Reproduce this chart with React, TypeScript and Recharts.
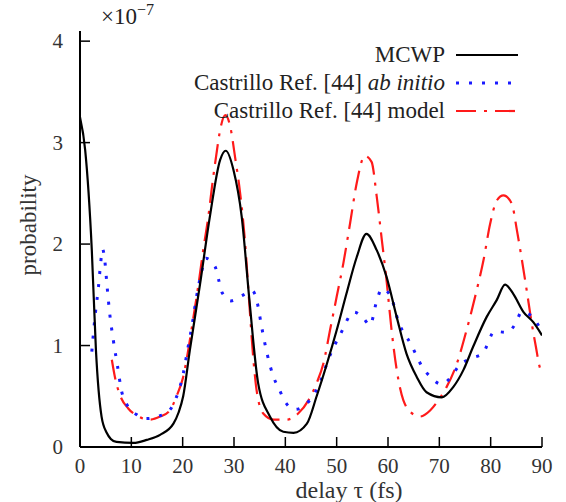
import { LineChart, Line, XAxis, YAxis, Legend } from "recharts";

const FONT = "'Liberation Serif', 'DejaVu Serif', serif";

// x ticks (fs) and y ticks (units of 1e-7)
const xTicks = [0, 10, 20, 30, 40, 50, 60, 70, 80, 90];
const yTicks = [0, 1, 2, 3, 4];

// MCWP (solid black)
const mcwpT = [0, 1.0, 2.3, 3.1, 4.2, 5.2, 6.0, 7.1, 10.4, 13.0, 15.6, 18.2, 19.2, 20.1, 21.4, 23.4, 25.3, 27.3, 28.4, 29.9, 31.5, 33.0, 34.7, 37.0, 39.6, 41.6, 44.2, 46.1, 48.1, 50.0, 51.9, 53.9, 55.8, 57.8, 59.7, 61.7, 63.6, 65.6, 67.5, 70.5, 72.7, 74.7, 76.6, 79.2, 81.2, 82.8, 84.4, 86.4, 88.3, 90];
const mcwpV = [3.25, 2.93, 1.94, 0.96, 0.3, 0.14, 0.08, 0.05, 0.04, 0.07, 0.12, 0.23, 0.34, 0.5, 0.955, 1.61, 2.27, 2.83, 2.92, 2.73, 2.27, 1.45, 0.63, 0.3, 0.15, 0.14, 0.23, 0.5, 0.82, 1.15, 1.51, 1.87, 2.1, 1.94, 1.68, 1.28, 0.92, 0.69, 0.54, 0.49, 0.59, 0.76, 0.99, 1.28, 1.45, 1.6, 1.51, 1.33, 1.23, 1.1];

// Castrillo ab initio (blue dotted)
const abT = [2.3, 3.0, 3.6, 4.0, 4.4, 4.8, 5.3, 5.8, 6.5, 7.3, 8.1, 9.0, 11.0, 12.9, 15.1, 17.4, 18.7, 20.1, 21.0, 21.9, 22.7, 23.7, 24.5, 26.3, 27.0, 27.7, 29.4, 31.5, 33.6, 34.5, 35.4, 36.4, 37.7, 38.8, 39.9, 41.9, 44.0, 45.6, 46.8, 48.5, 50.7, 53.4, 55.2, 56.5, 57.8, 58.8, 60.5, 62.0, 64.5, 66.8, 68.3, 70.3, 72.3, 73.8, 76.0, 78.4, 80.8, 83.1, 84.9, 86.0, 88.0, 89.5];
const abV = [0.94, 1.32, 1.58, 1.8, 1.95, 1.85, 1.57, 1.31, 1.05, 0.8, 0.55, 0.43, 0.32, 0.28, 0.3, 0.36, 0.48, 0.72, 0.97, 1.22, 1.48, 1.73, 1.86, 1.78, 1.65, 1.52, 1.44, 1.49, 1.54, 1.43, 1.18, 0.93, 0.69, 0.57, 0.45, 0.37, 0.42, 0.52, 0.64, 0.88, 1.11, 1.33, 1.27, 1.2, 1.44, 1.56, 1.49, 1.24, 1.01, 0.78, 0.69, 0.62, 0.69, 0.8, 0.87, 0.92, 1.14, 1.13, 1.22, 1.33, 1.29, 1.18];

// Castrillo model (red dash-dot)
const modelT = [6.2, 6.8, 7.8, 9.4, 11.4, 13.6, 15.6, 17.5, 18.8, 20.1, 21.1, 22.1, 23.1, 24.0, 25.0, 25.8, 26.5, 27.4, 28.3, 29.3, 30.2, 31.2, 32.1, 33.0, 33.8, 34.4, 35.7, 37.7, 40.3, 42.5, 44.5, 46.1, 47.4, 48.7, 50.0, 51.3, 52.6, 53.9, 55.5, 56.8, 57.8, 58.8, 59.7, 60.7, 61.7, 63.0, 65.0, 66.2, 68.2, 69.8, 71.4, 73.4, 75.3, 77.3, 78.6, 79.9, 81.2, 82.5, 84.1, 85.1, 86.0, 87.0, 88.0, 88.8, 89.6, 90];
const modelV = [0.86, 0.69, 0.51, 0.38, 0.3, 0.27, 0.3, 0.36, 0.5, 0.69, 0.96, 1.28, 1.61, 1.94, 2.27, 2.6, 2.86, 3.15, 3.27, 3.15, 2.86, 2.5, 2.05, 1.4, 0.85, 0.56, 0.33, 0.27, 0.27, 0.33, 0.46, 0.63, 0.82, 1.15, 1.48, 1.81, 2.2, 2.6, 2.87, 2.81, 2.47, 2.04, 1.65, 1.15, 0.76, 0.46, 0.32, 0.3, 0.36, 0.46, 0.59, 0.82, 1.15, 1.55, 1.84, 2.2, 2.43, 2.48, 2.4, 2.14, 1.87, 1.55, 1.22, 0.99, 0.78, 0.74];

const zip = (ts: number[], vs: number[]) => ts.map((t, i) => ({ t, v: vs[i] }));
const mcwpData = zip(mcwpT, mcwpV);
const abData = zip(abT, abV);
const modelData = zip(modelT, modelV);

const TICK_LEN = 10;

const BottomTick = ({ x, y, payload }: any) => (
  <g>
    <line x1={x} y1={y} x2={x} y2={y - TICK_LEN} stroke="#000" strokeWidth={1.5} />
    <text x={x} y={y + 26} textAnchor="middle" fontFamily={FONT} fontSize={21} fill="#333">
      {payload.value}
    </text>
  </g>
);

const TopTick = ({ x, y }: any) => (
  <line x1={x} y1={y} x2={x} y2={y + TICK_LEN} stroke="#000" strokeWidth={1.5} />
);

const LeftTick = ({ x, y, payload }: any) => (
  <g>
    <line x1={x} y1={y} x2={x + TICK_LEN} y2={y} stroke="#000" strokeWidth={1.5} />
    <text x={x - 17} y={y + 7} textAnchor="end" fontFamily={FONT} fontSize={21} fill="#333">
      {payload.value}
    </text>
  </g>
);

const RightTick = ({ x, y }: any) => (
  <line x1={x} y1={y} x2={x - TICK_LEN} y2={y} stroke="#333" strokeWidth={1.5} />
);

const legendRows = [
  { label: <>MCWP</>, stroke: "#000", dash: undefined, width: 2.2 },
  {
    label: (
      <>
        Castrillo Ref. [44] <tspan fontStyle="italic">ab initio</tspan>
      </>
    ),
    stroke: "#1a1aff",
    dash: "3 10",
    width: 3,
  },
  { label: <>Castrillo Ref. [44] model</>, stroke: "#ff1a1a", dash: "20 8 3 8", width: 2.2 },
];

const LegendBox = () => (
  <svg width={360} height={95} style={{ display: "block", overflow: "visible" }}>
    {legendRows.map((r, i) => {
      const cy = 19 + i * 28;
      return (
        <g key={i}>
          <text x={265} y={cy + 7} textAnchor="end" fontFamily={FONT} fontSize={23} fill="#222">
            {r.label}
          </text>
          <line x1={276} y1={cy} x2={338} y2={cy} stroke={r.stroke} strokeWidth={r.width} strokeDasharray={r.dash} />
        </g>
      );
    })}
  </svg>
);

const ScaleLabel = () => (
  <text x={101} y={24} fontFamily={FONT} fontSize={23} fill="#222">
    ×10
    <tspan dy={-9} fontSize={16}>
      −7
    </tspan>
  </text>
);

export default function App() {
  return (
    <div style={{ position: "absolute", left: 0, top: 0, background: "#fff" }}>
      <LineChart width={566} height={502} margin={{ top: 31, right: 24, bottom: 0, left: 0 }}>
        <XAxis
          dataKey="t"
          type="number"
          domain={[0, 90]}
          ticks={xTicks}
          height={55}
          tickSize={0}
          tickMargin={0}
          tickLine={false}
          axisLine={{ stroke: "#000", strokeWidth: 2 }}
          tick={(p: any) => <BottomTick {...p} />}
          interval={0}
          allowDataOverflow
          label={{
            value: "delay τ (fs)",
            position: "insideBottom",
            dx: 38,
            offset: 4,
            fontFamily: FONT,
            fontSize: 24,
            fill: "#333",
          }}
        />
        <XAxis
          xAxisId="top"
          orientation="top"
          dataKey="t"
          type="number"
          domain={[0, 90]}
          ticks={xTicks}
          height={0}
          tickSize={0}
          tickMargin={0}
          tickLine={false}
          axisLine={{ stroke: "#000", strokeWidth: 1.5 }}
          tick={(p: any) => <TopTick {...p} />}
          interval={0}
          allowDataOverflow
        />
        <YAxis
          type="number"
          domain={[0, 4.1]}
          ticks={yTicks}
          width={80}
          tickSize={0}
          tickMargin={0}
          tickLine={false}
          axisLine={{ stroke: "#000", strokeWidth: 2 }}
          tick={(p: any) => <LeftTick {...p} />}
          interval={0}
          allowDataOverflow
          label={<ScaleLabel />}
        />
        <YAxis
          yAxisId="right"
          orientation="right"
          type="number"
          domain={[0, 4.1]}
          ticks={yTicks}
          width={0}
          tickSize={0}
          tickMargin={0}
          tickLine={false}
          axisLine={{ stroke: "#999", strokeWidth: 1.5 }}
          tick={(p: any) => <RightTick {...p} />}
          interval={0}
          allowDataOverflow
        />
        <text
          x={28}
          y={225}
          transform="rotate(-90 28 225)"
          textAnchor="middle"
          dominantBaseline="central"
          fontFamily={FONT}
          fontSize={23}
          fill="#333"
        >
          probability
        </text>
        <Line
          data={modelData}
          dataKey="v"
          type="monotone"
          stroke="#ff1a1a"
          strokeWidth={2.2}
          strokeDasharray="20 8 3 8"
          dot={false}
          activeDot={false}
          isAnimationActive={false}
        />
        <Line
          data={abData}
          dataKey="v"
          type="monotone"
          stroke="#1a1aff"
          strokeWidth={3}
          strokeDasharray="3 10"
          dot={false}
          activeDot={false}
          isAnimationActive={false}
        />
        <Line
          data={mcwpData}
          dataKey="v"
          type="monotone"
          stroke="#000"
          strokeWidth={2.2}
          dot={false}
          activeDot={false}
          isAnimationActive={false}
        />
        <Legend
          layout="vertical"
          align="center"
          verticalAlign="middle"
          content={() => <LegendBox />}
          wrapperStyle={{ left: 180, top: 36, width: 360, height: 95 }}
        />
      </LineChart>
    </div>
  );
}
